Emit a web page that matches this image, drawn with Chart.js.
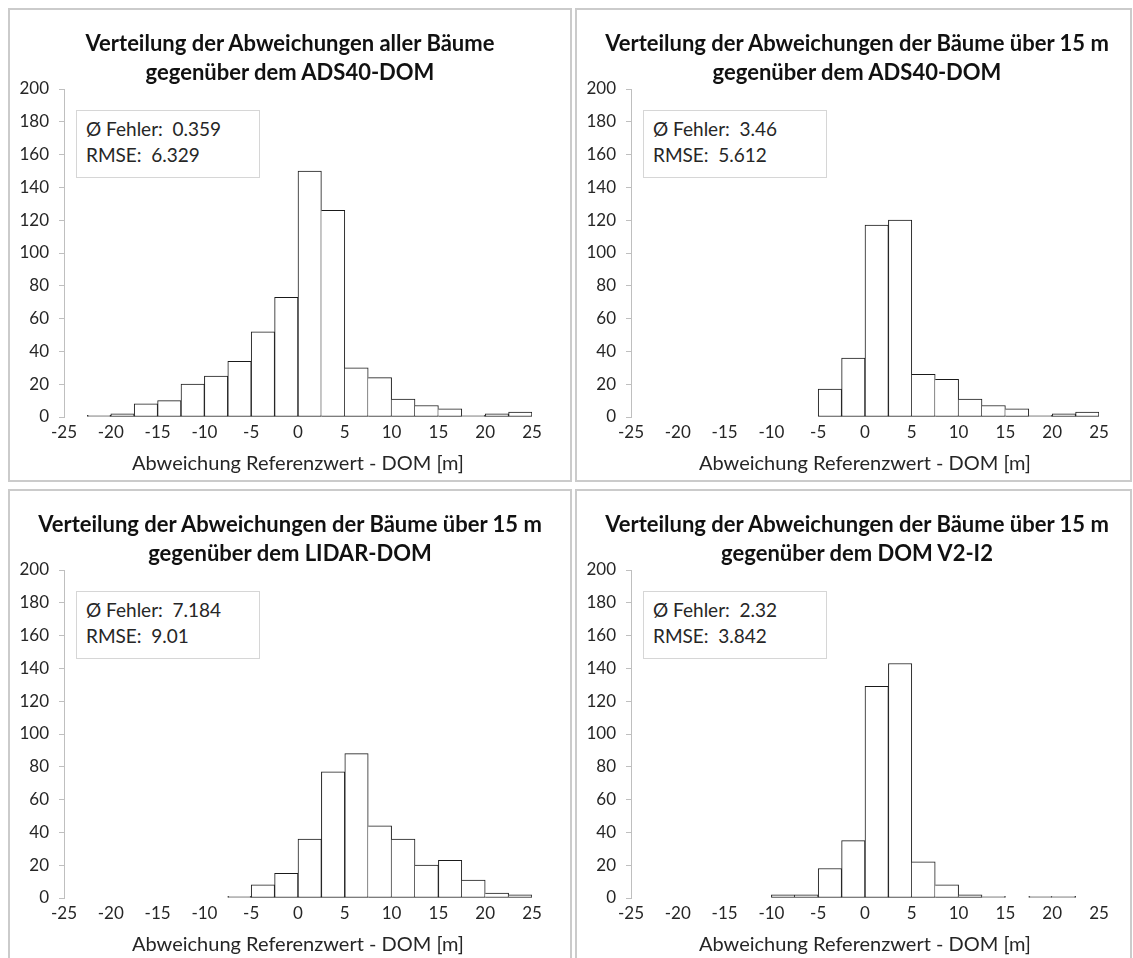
<!DOCTYPE html>
<html>
<head>
<meta charset="utf-8">
<script src="https://cdn.jsdelivr.net/npm/chart.js@4"></script>
<style>
  body { margin: 0; background: #fff; width: 1133px; height: 958px; overflow: hidden; position: relative; font-family: Lato, "Open Sans", sans-serif; }
  .panel { position: absolute; width: 564px; height: 474px; border: 2px solid #cbcbcb; box-sizing: border-box; background: #fff; overflow: hidden; }
  .panel.right { width: 557px; }
  .panel canvas { position: absolute; left: 0; top: 0; }
  .title { position: absolute; left: 0; top: 18px; width: 560px; text-align: center; font-size: 22px; font-weight: bold;
           line-height: 29px; color: #111; white-space: pre; }
  .stats { position: absolute; left: 66px; top: 100px; width: 184px; height: 68px; box-sizing: border-box;
           border: 1px solid #d6d6d6; background: #fff; padding: 5px 0 0 9px; font-size: 19px; line-height: 26px;
           color: #262626; white-space: pre; }
</style>
</head>
<body>
<div class="panel" style="left:8px; top:8px;"><canvas id="c1" width="560" height="470"></canvas><div class="title" id="t1"></div><div class="stats" id="s1"></div></div>
<div class="panel right" style="left:575px; top:8px;"><canvas id="c2" width="560" height="470"></canvas><div class="title" id="t2"></div><div class="stats" id="s2"></div></div>
<div class="panel" style="left:8px; top:489px;"><canvas id="c3" width="560" height="470"></canvas><div class="title" id="t3"></div><div class="stats" id="s3"></div></div>
<div class="panel right" style="left:575px; top:489px;"><canvas id="c4" width="560" height="470"></canvas><div class="title" id="t4"></div><div class="stats" id="s4"></div></div>
<script>
// Klassenmitten (Klassenbreite 2.5 m)
const binCenters = [-23.75, -21.25, -18.75, -16.25, -13.75, -11.25, -8.75, -6.25, -3.75, -1.25,
                    1.25, 3.75, 6.25, 8.75, 11.25, 13.75, 16.25, 18.75, 21.25, 23.75];
const xTicks = [-25, -20, -15, -10, -5, 0, 5, 10, 15, 20, 25];
const yTicks = [0, 20, 40, 60, 80, 100, 120, 140, 160, 180, 200];

// Häufigkeiten (null = leere Klasse)
const allAds40    = [null, 1, 2, 8, 10, 20, 25, 34, 52, 73, 150, 126, 30, 24, 11, 7, 5, 1, 2, 3];
const over15Ads40 = [null, null, null, null, null, null, null, null, 17, 36, 117, 120, 26, 23, 11, 7, 5, 1, 2, 3];
const over15Lidar = [null, null, null, null, null, null, null, 1, 8, 15, 36, 77, 88, 44, 36, 20, 23, 11, 3, 2];
const over15V2    = [null, null, null, null, null, null, 2, 2, 18, 35, 129, 143, 22, 8, 2, 1, null, 1, 1, null];

const titles = [
  ['Verteilung der Abweichungen aller Bäume', 'gegenüber dem ADS40-DOM'],
  ['Verteilung der Abweichungen der Bäume über 15 m', 'gegenüber dem ADS40-DOM'],
  ['Verteilung der Abweichungen der Bäume über 15 m', 'gegenüber dem LIDAR-DOM'],
  ['Verteilung der Abweichungen der Bäume über 15 m', 'gegenüber dem DOM V2-I2']
];
const meanError = ['0.359', '3.46', '7.184', '2.32'];
const rmse = ['6.329', '5.612', '9.01', '3.842'];
const series = [allAds40, over15Ads40, over15Lidar, over15V2];

const FONT = 'Lato, "Open Sans", sans-serif';

function makeChart(idx) {
  const values = series[idx];
  document.getElementById('t' + (idx + 1)).textContent = titles[idx].join('\n');
  document.getElementById('s' + (idx + 1)).textContent =
    'Ø Fehler:  ' + meanError[idx] + '\nRMSE:  ' + rmse[idx];

  new Chart(document.getElementById('c' + (idx + 1)), {
    type: 'bar',
    data: {
      datasets: [{
        data: binCenters.map((x, i) => ({ x: x, y: values[i] })),
        backgroundColor: '#ffffff',
        borderColor: '#1a1a1a',
        borderSkipped: false,
        // gemeinsame Kanten nur einmal zeichnen
        borderWidth: ctx => {
          const i = ctx.dataIndex;
          const v = values[i];
          const prev = i > 0 ? values[i - 1] : null;
          return { top: 1, right: 1, bottom: 1, left: (prev != null && prev >= v) ? 0 : 1 };
        },
        barPercentage: 1,
        categoryPercentage: 1
      }]
    },
    options: {
      responsive: false,
      animation: false,
      layout: { padding: { left: 0, right: 38, top: 79, bottom: 0 } },
      plugins: {
        legend: { display: false },
        tooltip: { enabled: false },
        title: { display: false }
      },
      scales: {
        x: {
          type: 'linear',
          min: -25, max: 25,
          offset: false,
          afterBuildTicks: s => { s.ticks = xTicks.map(v => ({ value: v })); },
          afterFit: s => { s.height = 63; },
          grid: { display: false, drawTicks: false, offset: false },
          border: { display: false },
          ticks: { color: '#262626', font: { family: FONT, size: 17 }, padding: 5, maxRotation: 0, autoSkip: false },
          title: {
            display: true,
            text: 'Abweichung Referenzwert - DOM [m]',
            color: '#262626',
            font: { family: FONT, size: 20 },
            padding: { top: 0, bottom: 4 }
          }
        },
        y: {
          min: 0, max: 200,
          afterBuildTicks: s => { s.ticks = yTicks.map(v => ({ value: v })); },
          afterFit: s => { s.width = 54; },
          grid: { drawOnChartArea: false, drawTicks: true, tickLength: 5, color: '#bfbfbf' },
          border: { display: true, color: '#bfbfbf', width: 1 },
          ticks: { color: '#262626', font: { family: FONT, size: 17 }, padding: 10 }
        }
      }
    }
  });
}

[0, 1, 2, 3].forEach(makeChart);
</script>
</body>
</html>
